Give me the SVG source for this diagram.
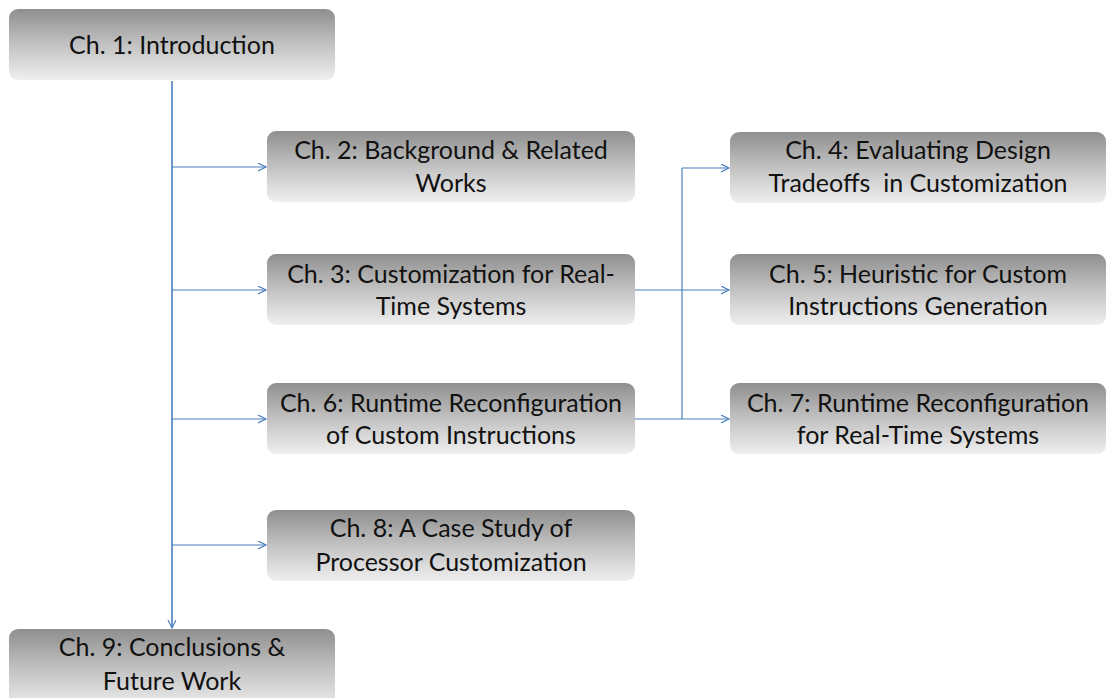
<svg xmlns="http://www.w3.org/2000/svg" width="1107" height="698" viewBox="0 0 1107 698">
  <style>
    .box { fill: url(#boxFill); }
    .lbl { font-family: Lato, "Open Sans", "Liberation Sans", sans-serif; font-size: 25px; fill: #111; text-anchor: middle; }
    .wire { stroke: #4a7ebb; stroke-width: 1.2; fill: none; }
    .trunk { stroke: #4a7ebb; stroke-width: 1.6; fill: none; }
  </style>
  <defs>
    <linearGradient id="boxFill" x1="0" y1="0" x2="0" y2="1">
      <stop offset="0" stop-color="#8f8f8f"/>
      <stop offset="0.5" stop-color="#c2c2c2"/>
      <stop offset="1" stop-color="#efefef"/>
    </linearGradient>
    <marker id="arrow" markerWidth="10" markerHeight="10" refX="8" refY="4" orient="auto" markerUnits="userSpaceOnUse">
      <path d="M0,0 L8,4 L0,8" fill="none" stroke="#4a7ebb" stroke-width="1.2"/>
    </marker>
  </defs>

  <g id="connectors">
    <line class="trunk" x1="172" y1="81" x2="172" y2="628" marker-end="url(#arrow)"/>
    <line class="wire" x1="172" y1="167" x2="266" y2="167" marker-end="url(#arrow)"/>
    <line class="wire" x1="172" y1="290" x2="266" y2="290" marker-end="url(#arrow)"/>
    <line class="wire" x1="172" y1="419" x2="266" y2="419" marker-end="url(#arrow)"/>
    <line class="wire" x1="172" y1="545" x2="266" y2="545" marker-end="url(#arrow)"/>
    <line class="wire" x1="682" y1="168" x2="682" y2="419"/>
    <line class="wire" x1="682" y1="168" x2="729" y2="168" marker-end="url(#arrow)"/>
    <line class="wire" x1="635" y1="290" x2="729" y2="290" marker-end="url(#arrow)"/>
    <line class="wire" x1="635" y1="419" x2="729" y2="419" marker-end="url(#arrow)"/>
  </g>

  <g id="ch1">
    <rect class="box" x="9" y="9" width="326" height="71" rx="9"/>
    <text class="lbl" x="172" y="54">Ch. 1: Introduction</text>
  </g>
  <g id="ch2">
    <rect class="box" x="267" y="131" width="368" height="71" rx="9"/>
    <text class="lbl" x="451" y="159">Ch. 2: Background &amp; Related</text>
    <text class="lbl" x="451" y="192">Works</text>
  </g>
  <g id="ch3">
    <rect class="box" x="267" y="254" width="368" height="71" rx="9"/>
    <text class="lbl" x="451" y="283">Ch. 3: Customization for Real-</text>
    <text class="lbl" x="451" y="315">Time Systems</text>
  </g>
  <g id="ch6">
    <rect class="box" x="267" y="383" width="368" height="71" rx="9"/>
    <text class="lbl" x="451" y="412">Ch. 6: Runtime Reconfiguration</text>
    <text class="lbl" x="451" y="444">of Custom Instructions</text>
  </g>
  <g id="ch8">
    <rect class="box" x="267" y="510" width="368" height="71" rx="9"/>
    <text class="lbl" x="451" y="537">Ch. 8: A Case Study of</text>
    <text class="lbl" x="451" y="571">Processor Customization</text>
  </g>
  <g id="ch4">
    <rect class="box" x="730" y="132" width="376" height="71" rx="9"/>
    <text class="lbl" x="918" y="159">Ch. 4: Evaluating Design</text>
    <text class="lbl" x="918" y="192" xml:space="preserve">Tradeoffs  in Customization</text>
  </g>
  <g id="ch5">
    <rect class="box" x="730" y="254" width="376" height="71" rx="9"/>
    <text class="lbl" x="918" y="283">Ch. 5: Heuristic for Custom</text>
    <text class="lbl" x="918" y="315">Instructions Generation</text>
  </g>
  <g id="ch7">
    <rect class="box" x="730" y="383" width="376" height="71" rx="9"/>
    <text class="lbl" x="918" y="412">Ch. 7: Runtime Reconfiguration</text>
    <text class="lbl" x="918" y="444">for Real-Time Systems</text>
  </g>
  <g id="ch9">
    <rect class="box" x="9" y="629" width="326" height="80" rx="9"/>
    <text class="lbl" x="172" y="656">Ch. 9: Conclusions &amp;</text>
    <text class="lbl" x="172" y="690">Future Work</text>
  </g>
</svg>
